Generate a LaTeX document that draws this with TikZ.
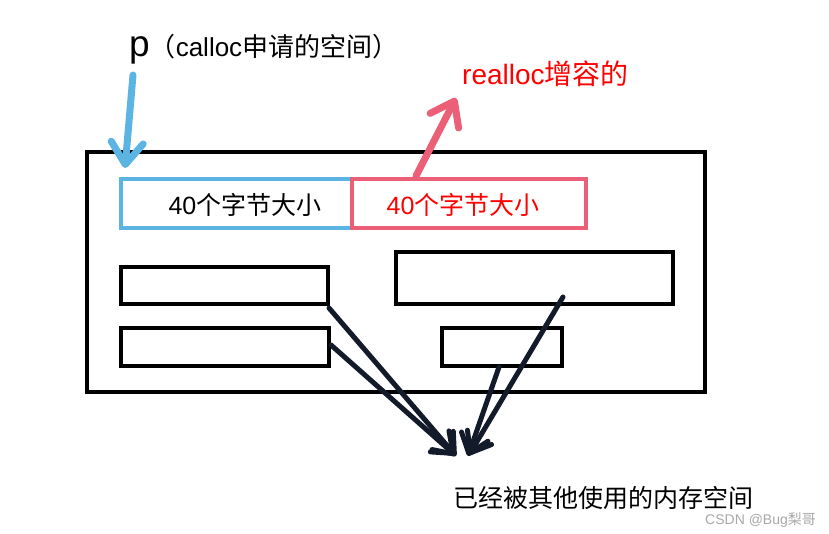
\documentclass[tikz,border=0pt]{standalone}
\usepackage{fontspec}
\setmainfont{Liberation Sans}
\newfontfamily\cjk{Noto Sans CJK SC}
\usetikzlibrary{arrows.meta}
\definecolor{myblue}{HTML}{5BB4E2}
\definecolor{myrose}{HTML}{EB5F77}
\definecolor{myred}{HTML}{FF0000}
\definecolor{mynavy}{HTML}{131A2A}
\definecolor{mygray}{HTML}{A8A8A8}
\tikzset{
  box/.style={draw=black, line width=4pt, inner sep=0pt},
  bluebox/.style={draw=myblue, line width=4pt, inner sep=0pt},
  rosebox/.style={draw=myrose, line width=4pt, inner sep=0pt},
  bluearrow/.style={draw=myblue, line width=7pt, line cap=round,
     -{Straight Barb[length=22pt,width=32pt,round]}},
  rosearrow/.style={draw=myrose, line width=7pt, line cap=round,
     -{Straight Barb[length=22pt,width=32pt,round]}},
  navyarrow/.style={draw=mynavy, line width=5pt, line cap=round,
     -{Straight Barb[length=18pt,width=28pt,round]}},
  label/.style={inner sep=0pt, font=\fontsize{25pt}{30pt}\selectfont}
}
\begin{document}
\begin{tikzpicture}[x=1pt,y=-1pt]
\useasboundingbox[fill=white] (0,0) rectangle (829,534);
% outer memory block
\node[box, minimum width=618pt, minimum height=240pt] (mem) at (396,272) {};
% blocks
\node[bluebox, minimum width=231pt, minimum height=49pt] (bl) at (236.5,203.5) {};
\node[rosebox, minimum width=234pt, minimum height=49pt] (rd) at (469,203.5) {};
\node[label, anchor=base] (blt) at (245,215) {40{\cjk 个字节大小}};
\node[label, anchor=base, text=myred] (rdt) at (463,215) {40{\cjk 个字节大小}};
\node[box, minimum width=207pt, minimum height=37pt] (r1) at (224.5,285.5) {};
\node[box, minimum width=208pt, minimum height=38pt] (r2) at (225,347) {};
\node[box, minimum width=277pt, minimum height=52pt] (r3) at (534.5,278) {};
\node[box, minimum width=120pt, minimum height=38pt] (r4) at (502,347) {};
% labels
\node[inner sep=0pt, anchor=base west] (pt) at (129,57)
  {{\fontsize{37pt}{40pt}\selectfont p}{\fontsize{26pt}{30pt}\selectfont\cjk （}{\fontsize{26pt}{30pt}\selectfont calloc}{\fontsize{26pt}{30pt}\selectfont\cjk 申请的空间）}};
\node[inner sep=0pt, anchor=base west, text=myred, font=\fontsize{28pt}{30pt}\selectfont] (rt) at (462,85)
  {realloc{\cjk 增容的}};
\node[label, anchor=base west] (used) at (453,507) {\cjk 已经被其他使用的内存空间};
\node[inner sep=0pt, anchor=base west, text=mygray, font=\fontsize{14pt}{16pt}\selectfont] (wm) at (705,524)
  {CSDN @Bug{\cjk 梨哥}};
% arrow end points
\coordinate (pa) at (133,75);
\coordinate (pb) at (125,168);
\coordinate (ra) at (416,176);
\coordinate (rb) at (456,98);
\coordinate (s1) at (329,308);
\coordinate (s2) at (331,345);
\coordinate (s3) at (563,297);
\coordinate (s4) at (499,367);
\coordinate (t1) at (456,456);
\coordinate (t2) at (455,455);
\coordinate (t3) at (469,455);
\coordinate (t4) at (468,456);
\draw[bluearrow] (pa) -- (pb);
\draw[rosearrow] (ra) -- (rb);
\draw[navyarrow] (s1) -- (t1);
\draw[navyarrow] (s2) -- (t2);
\draw[navyarrow] (s3) -- (t3);
\draw[navyarrow] (s4) -- (t4);
\end{tikzpicture}
\end{document}
